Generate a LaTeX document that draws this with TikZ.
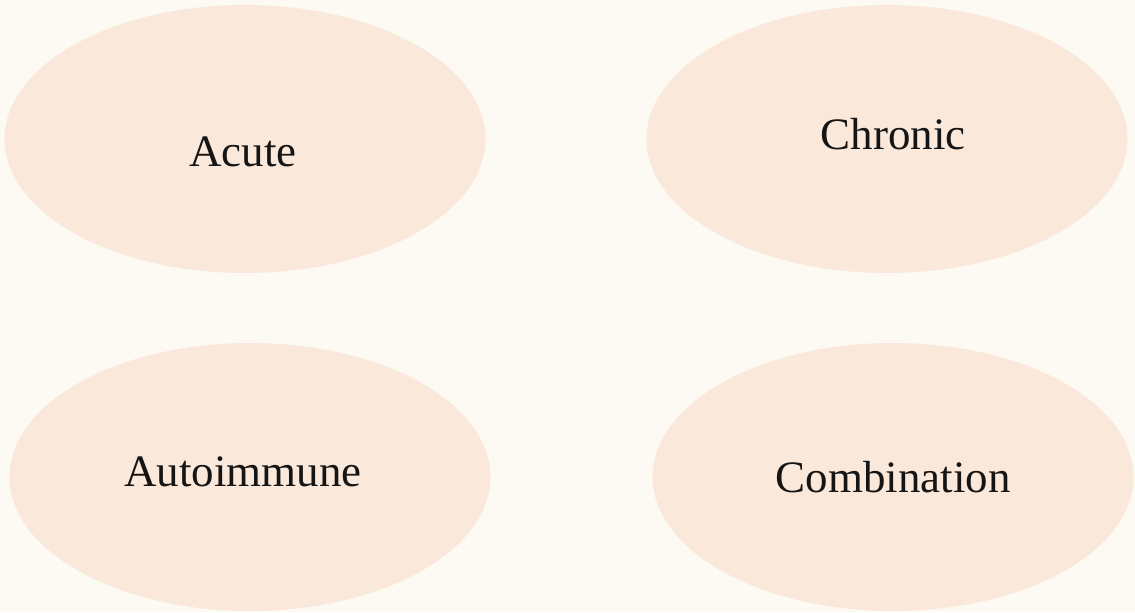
\documentclass[tikz,border=0pt]{standalone}
\usepackage{fontspec}
\setmainfont{Liberation Serif}
\usetikzlibrary{shapes.geometric}
\definecolor{paper}{HTML}{FDF9F3}
\definecolor{blobfill}{HTML}{FAE8DA}
\definecolor{ink}{HTML}{151515}
\begin{document}
\begin{tikzpicture}[x=0.02cm,y=-0.02cm]
      \tikzset{kind/.style={ellipse,
          fill=blobfill,
          draw=none,
          inner sep=0pt,
          minimum width=9.62cm,
          minimum height=5.36cm},
        kind label/.style={text=ink, font=\fontsize{25.6}{30}\selectfont}
      }
      \fill [paper] (0,0) rectangle (1135,612);
      \useasboundingbox (0,0) rectangle (1135,612);
      \node [kind, label={[kind label,xshift=-0.04cm,yshift=-0.26cm]center:Acute}] (acute) at (245,139) {};
      \node [kind, label={[kind label,xshift=0.12cm,yshift=0.1cm]center:Chronic}] (chronic) at (887,139) {};
      \node [kind, label={[kind label,xshift=-0.14cm,yshift=0.1cm]center:Autoimmune}] (autoimmune) at (250,477) {};
      \node [kind, label={[kind label]center:Combination}] (combination) at (893,477) {};
\end{tikzpicture}
\end{document}
